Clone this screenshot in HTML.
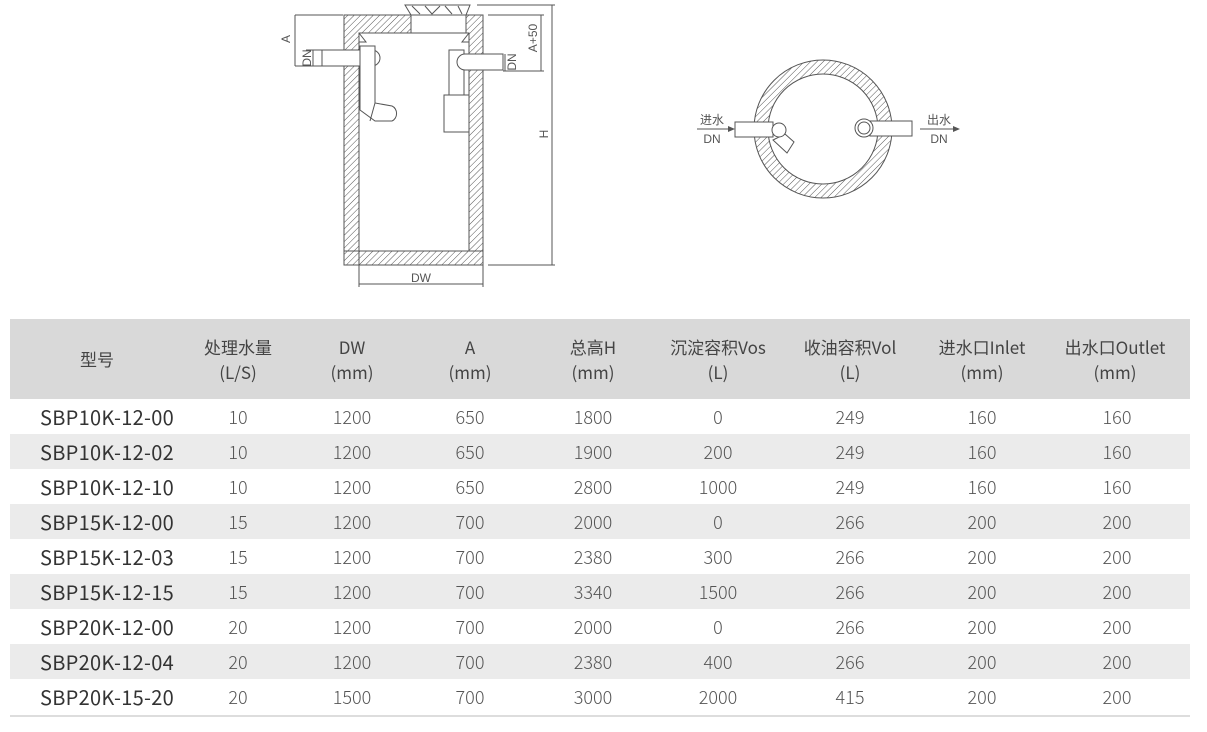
<!DOCTYPE html>
<html><head><meta charset="utf-8"><style>
body{margin:0;width:1207px;height:732px;background:#fff;position:relative;font-family:"Noto Sans CJK SC","Liberation Sans",sans-serif;overflow:hidden}
svg{position:absolute;left:0;top:0}
.t{position:absolute;left:10px;top:319px;width:1180px}
.hd{position:absolute;left:0;top:0;width:1180px;height:80px;background:#d9d9d9}
.r{position:absolute;left:0;width:1180px;height:35px}
.g{background:#ebebeb}
.c{position:absolute;text-align:center;transform:translateX(-50%);white-space:nowrap;color:#555;font-size:18px;font-weight:300}
.h{color:#444;font-size:17px;line-height:25px;top:15px;font-weight:400}
.m{color:#333;font-size:20px;font-weight:400;letter-spacing:0.3px}
</style></head><body>
<svg width="1207" height="300" viewBox="0 0 1207 300">
<defs><pattern id="hp" width="4.5" height="4.5" patternUnits="userSpaceOnUse" patternTransform="rotate(45)"><line x1="0" y1="0" x2="0" y2="4.5" stroke="#555" stroke-width="1"/></pattern></defs>
<g stroke="#555" stroke-width="1" fill="none">
<rect x="344" y="15" width="139" height="250" fill="url(#hp)"/>
<rect x="359" y="33" width="110" height="218" fill="#fff"/>
<rect x="411" y="15" width="55" height="18" fill="#fff"/>
<path d="M405 5 L470 5 L466 15 L411 15 Z" fill="#fff"/>
<path d="M412 6 L420 14 M425 6 L432 14 L440 6 M445 6 L452 14 M458 6 L462 14"/>
<path d="M344 251 H483"/>
<path d="M359 33 L366 42 L359 42 M469 33 L462 42 L469 42"/>
<path d="M313 50 H372 A8 8 0 0 1 372 66 H313 Z" fill="#fff"/>
<path d="M360 46 H375 V103 L392 106 A7 8 0 0 1 392 121 L375 121 L360 110 Z" fill="#fff"/>
<path d="M375 103 L370 121"/>
<path d="M449 50 H464 V95 H449 Z" fill="#fff"/>
<rect x="444" y="95" width="25" height="37" fill="#fff"/>
<path d="M503 54 H465 A8 8 0 0 0 465 70 H503 Z" fill="#fff"/>
<path d="M295 15 H343 M295 15 V66 M295 66 H313 M322 50 V66 M306 50 H322 M306 66 H322"/>
<path d="M477 5 H555 M488 15 H544 M541 15 V71 M503 71 H544 M505 54 V71"/>
<path d="M552 5 V265 M488 265 H555"/>
<path d="M359 251 V287 M483 265 V287 M359 284 H483"/>
<circle cx="823" cy="129" r="69" fill="url(#hp)"/>
<circle cx="823" cy="129" r="55" fill="#fff"/>
<rect x="735" y="122" width="38" height="15" fill="#fff"/>
<path d="M785 134 L794 142 L787 153 L773 140 Z" fill="#fff"/>
<circle cx="779" cy="130" r="7" fill="#fff"/>
<rect x="870" y="121" width="42" height="15" fill="#fff"/>
<circle cx="864" cy="128" r="9" fill="#fff"/>
<circle cx="864" cy="128" r="6"/>
<path d="M697 129 H733 M920 129 H958"/>
</g>
<path d="M735 129 L728 126 L728 132 Z M960 129 L953 126 L953 132 Z" fill="#555"/>
<g font-family="Liberation Sans,Noto Sans CJK SC,sans-serif" font-size="12" fill="#555">
<text x="290" y="39" transform="rotate(-90 290 39)" text-anchor="middle">A</text>
<text x="311" y="58" transform="rotate(-90 311 58)" text-anchor="middle">DN</text>
<text x="537" y="38" transform="rotate(-90 537 38)" text-anchor="middle">A+50</text>
<text x="516" y="62" transform="rotate(-90 516 62)" text-anchor="middle">DN</text>
<text x="548" y="134" transform="rotate(-90 548 134)" text-anchor="middle">H</text>
<text x="421" y="282" text-anchor="middle">DW</text>
<text x="712" y="124" text-anchor="middle">进水</text>
<text x="712" y="143" text-anchor="middle">DN</text>
<text x="939" y="124" text-anchor="middle">出水</text>
<text x="939" y="143" text-anchor="middle">DN</text>
</g>
</svg>
<div class="t">
<div class="hd">
<div class="c h" style="left:87px;top:27px">型号</div>
<div class="c h" style="left:228px">处理水量<br>(L/S)</div>
<div class="c h" style="left:342px">DW<br>(mm)</div>
<div class="c h" style="left:460px">A<br>(mm)</div>
<div class="c h" style="left:583px">总高H<br>(mm)</div>
<div class="c h" style="left:708px">沉淀容积Vos<br>(L)</div>
<div class="c h" style="left:840px">收油容积Vol<br>(L)</div>
<div class="c h" style="left:972px">进水口Inlet<br>(mm)</div>
<div class="c h" style="left:1105px">出水口Outlet<br>(mm)</div>
</div>
</div>
<div id="rows"></div>
<script>
var d=[["SBP10K-12-00",10,1200,650,1800,0,249,160,160],["SBP10K-12-02",10,1200,650,1900,200,249,160,160],["SBP10K-12-10",10,1200,650,2800,1000,249,160,160],["SBP15K-12-00",15,1200,700,2000,0,266,200,200],["SBP15K-12-03",15,1200,700,2380,300,266,200,200],["SBP15K-12-15",15,1200,700,3340,1500,266,200,200],["SBP20K-12-00",20,1200,700,2000,0,266,200,200],["SBP20K-12-04",20,1200,700,2380,400,266,200,200],["SBP20K-15-20",20,1500,700,3000,2000,415,200,200]];
var x=[107,238,352,470,593,718,850,982,1117],h="";
d.forEach(function(r,i){var y=399+i*35;h+='<div class="r'+(i%2?' g':'')+'" style="left:10px;top:'+y+'px"></div>';
r.forEach(function(v,j){h+='<div class="c'+(j==0?' m':'')+'" style="left:'+x[j]+'px;top:'+(y+4)+'px;line-height:28px">'+v+'</div>';});});
h+='<div style="position:absolute;left:10px;top:715px;width:1180px;height:2px;background:#ddd"></div>';
document.getElementById("rows").innerHTML=h;
</script>
</body></html>
